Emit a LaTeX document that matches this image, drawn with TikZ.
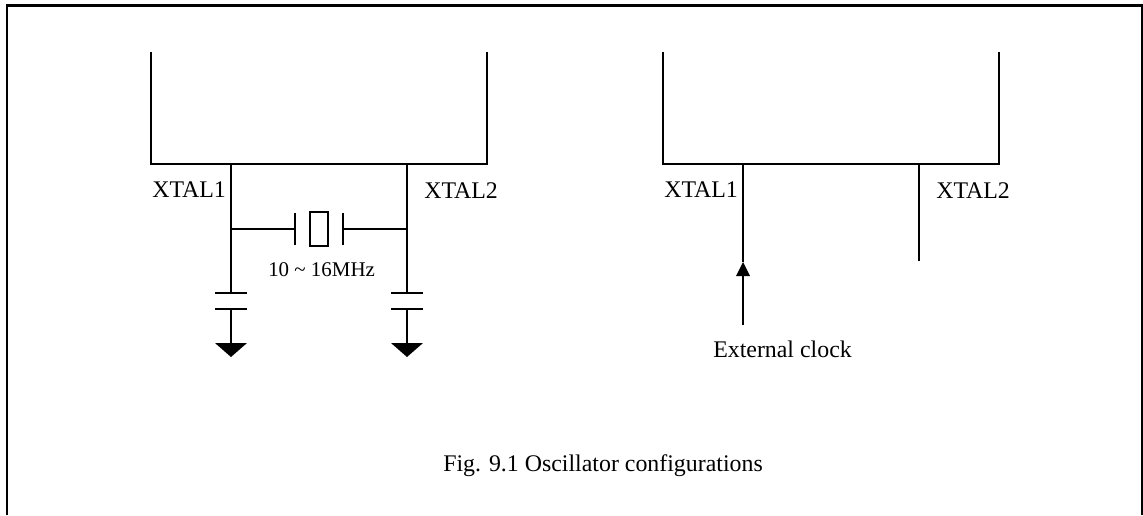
\documentclass[tikz,border=0pt]{standalone}
\usepackage{fontspec}
\setmainfont{Liberation Serif}
\usetikzlibrary{positioning}
\tikzset{
  wire/.style={line width=1.8pt, line cap=butt},
  pinlabel/.style={font=\fontsize{17.9}{21}\selectfont, inner sep=0pt, anchor=base west},
  smalllabel/.style={font=\fontsize{15.7}{18}\selectfont, inner sep=0pt, anchor=base west},
  crystal/.style={draw, line width=1.8pt, minimum width=13.5pt, minimum height=25.5pt, inner sep=0pt},
  gnd/.style={fill=black, draw=none}
}

\begin{document}
\begin{tikzpicture}[x=0.75pt, y=-0.75pt]
    \useasboundingbox (0, 0) rectangle (1143, 515);

    % outer frame, open at the bottom
    \draw [line width=2pt] (7, 515) -- (7, 5.5) -- (1142, 5.5) -- (1142, 515);

    % left block
    \draw [wire] (151, 52) -- (151, 164) -- (487, 164) -- (487, 52);
    \coordinate (lpina) at (231, 164);
    \coordinate (lpinb) at (407, 164);
    \coordinate (ljointa) at (231, 229);
    \coordinate (ljointb) at (407, 229);
    \coordinate (lcapa) at (231, 293);
    \coordinate (lcapb) at (407, 293);
    \coordinate (lgnda) at (231, 343);
    \coordinate (lgndb) at (407, 343);

    \draw [wire] (lpina) -- (lcapa);
    \draw [wire] (lpinb) -- (lcapb);

    \node (xtal) at (319, 229) [crystal] {};
    \coordinate (platea) at (295, 229);
    \coordinate (plateb) at (343, 229);
    \draw [wire] (ljointa) -- (platea);
    \draw [wire] (ljointb) -- (plateb);
    \draw [wire] (295, 213) -- (295, 245);
    \draw [wire] (343, 213) -- (343, 245);

    % load capacitors and grounds
    \foreach \px in {231, 407} {
      \draw [wire] (\px-16, 293) -- (\px+16, 293);
      \draw [wire] (\px-16, 309) -- (\px+16, 309);
      \fill [gnd] (\px-16, 343) -- (\px+16, 343) -- (\px, 357) -- cycle;
    }
    \draw [wire] (231, 309) -- (lgnda);
    \draw [wire] (407, 309) -- (lgndb);

    \node (la) at (152, 197) [pinlabel] {XTAL1};
    \node (lb) at (424, 198) [pinlabel] {XTAL2};
    \node (freq) at (268, 276) [smalllabel] {10 \textasciitilde{} 16MHz};

    % right block
    \draw [wire] (663, 52) -- (663, 164) -- (999, 164) -- (999, 52);
    \coordinate (rpina) at (743, 164);
    \coordinate (rpinb) at (919, 164);
    \coordinate (rena) at (743, 262);
    \coordinate (renb) at (919, 261);
    \coordinate (clk) at (743, 325);
    \draw [wire] (rpina) -- (rena);
    \draw [wire] (rpinb) -- (renb);
    \draw [wire] (clk) -- (743, 276);
    \fill [gnd] (736, 276) -- (750, 276) -- (743, 262) -- cycle;

    \node (ra) at (664, 197) [pinlabel] {XTAL1};
    \node (rb) at (936, 198) [pinlabel] {XTAL2};
    \node (ext) at (713, 357) [pinlabel] {External clock};

    \node (cap) at (443, 471) [pinlabel] {Fig. 9.1 Oscillator configurations};
\end{tikzpicture}
\end{document}
